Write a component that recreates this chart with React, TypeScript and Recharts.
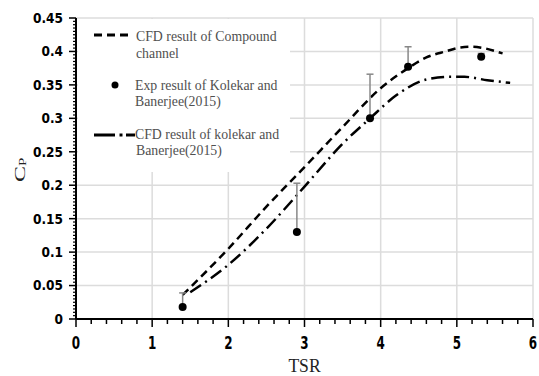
import { ComposedChart, Line, Scatter, ErrorBar, XAxis, YAxis, ReferenceLine, Legend } from "recharts";

// CFD result of compound channel
const tsrCompound = [1.4, 2.0, 2.5, 3.0, 3.5, 4.0, 4.36, 4.6, 4.85, 5.05, 5.2, 5.35, 5.6];
const cpCompound = [0.036, 0.105, 0.168, 0.227, 0.287, 0.345, 0.375, 0.391, 0.4, 0.406, 0.407, 0.405, 0.397];

// CFD result of Kolekar and Banerjee (2015)
const tsrKolekar = [1.5, 2.0, 2.5, 3.0, 3.5, 3.86, 4.2, 4.6, 4.9, 5.1, 5.4, 5.7];
const cpKolekar = [0.04, 0.081, 0.135, 0.198, 0.262, 0.3, 0.334, 0.358, 0.362, 0.362, 0.357, 0.353];

// experiment, with upper error only
const tsrExp = [1.4, 2.9, 3.86, 4.36, 5.32];
const cpExp = [0.018, 0.13, 0.3, 0.377, 0.392];
const errUp = [0.021, 0.073, 0.066, 0.03, 0.005];

const xTicks = [0, 1, 2, 3, 4, 5, 6];
const yTicks = [0, 0.05, 0.1, 0.15, 0.2, 0.25, 0.3, 0.35, 0.4, 0.45];
const xMinor = Array.from({ length: 31 }, (_, i) => +(i * 0.2).toFixed(1));
const yMinor = Array.from({ length: 91 }, (_, i) => +(i * 0.005).toFixed(3));

const legendLabels = [
  ["CFD result of Compound", "channel"],
  ["Exp result of Kolekar and", "Banerjee(2015)"],
  ["CFD result of kolekar and", "Banerjee(2015)"],
];

const compound = tsrCompound.map((x, i) => ({ x, y: cpCompound[i] }));
const kolekar = tsrKolekar.map((x, i) => ({ x, y: cpKolekar[i] }));
const exp = tsrExp.map((x, i) => ({ x, y: cpExp[i], err: [0, errUp[i]] }));

const serif = "'Liberation Serif', 'Times New Roman', serif";
const sans = "'DejaVu Sans Condensed', 'DejaVu Sans', sans-serif";
const gridColor = "#dcdcdc";

function LegendText({ x, y, text }: { x: number; y: number; text: string }) {
  return (
    <text transform={`translate(${x},${y}) scale(0.92,1)`} fontFamily={serif} fontSize={15} fill="#505050">
      {text}
    </text>
  );
}

function LegendBox() {
  return (
    <svg width={212} height={153} style={{ display: "block" }}>
      <rect width={212} height={153} fill="#fff" />
      <line x1={16} x2={50} y1={16} y2={16} stroke="#000" strokeWidth={3} strokeDasharray="8 5" />
      <LegendText x={58} y={21.7} text={legendLabels[0][0]} />
      <LegendText x={58} y={39} text={legendLabels[0][1]} />
      <circle cx={37} cy={66} r={3.5} fill="#000" />
      <LegendText x={57} y={71} text={legendLabels[1][0]} />
      <LegendText x={57} y={87} text={legendLabels[1][1]} />
      <line x1={16} x2={37} y1={116} y2={116} stroke="#000" strokeWidth={3} />
      <line x1={41.5} x2={44.5} y1={116} y2={116} stroke="#000" strokeWidth={3} />
      <line x1={48} x2={57} y1={116} y2={116} stroke="#000" strokeWidth={3} />
      <LegendText x={57} y={120.3} text={legendLabels[2][0]} />
      <LegendText x={58} y={136} text={legendLabels[2][1]} />
    </svg>
  );
}

// tick renderers draw their own tick marks (major and minor) and labels for major ticks only
const XTick = ({ x, y, payload }: any) => {
  const major = xTicks.includes(payload.value);
  return (
    <g>
      <line x1={x} x2={x} y1={y} y2={y + (major ? 8 : 5)} stroke="#000" strokeWidth={1.5} />
      {major && (
        <text
          transform={`translate(${x},${y + 17}) scale(0.95,1.3)`}
          textAnchor="middle"
          dy="0.73em"
          fontFamily={sans}
          fontWeight={700}
          fontSize={14}
          fill="#000"
        >
          {payload.value}
        </text>
      )}
    </g>
  );
};

const YTick = ({ x, y, payload }: any) => {
  const major = yTicks.includes(payload.value);
  return (
    <g>
      <line x1={x} x2={x - (major ? 7 : 3)} y1={y} y2={y} stroke="#000" strokeWidth={major ? 1.5 : 1.2} />
      {major && (
        <text x={x - 13} y={y} dy="0.36em" textAnchor="end" fontFamily={sans} fontWeight={700} fontSize={13.5} fill="#000">
          {payload.value}
        </text>
      )}
    </g>
  );
};

const Dot = (props: any) => <circle cx={props.cx} cy={props.cy} r={4} fill="#000" />;

export default function App() {
  return (
    <div style={{ position: "absolute", left: 0, top: 0, width: 539, height: 376, background: "#fff" }}>
      <ComposedChart width={539} height={376} margin={{ top: 18, right: 6, bottom: 2, left: 16 }}>
        <XAxis
          dataKey="x"
          type="number"
          domain={[0, 6]}
          ticks={xMinor}
          interval={0}
          allowDataOverflow
          height={55}
          tickSize={0}
          tickMargin={0}
          tickLine={false}
          tick={<XTick />}
          axisLine={{ stroke: "#000", strokeWidth: 2 }}
          label={{
            content: ({ viewBox }: any) => (
              <text
                transform={`translate(${viewBox.x + viewBox.width / 2},372) scale(0.95,1.05)`}
                textAnchor="middle"
                fontFamily={serif}
                fontSize={18.5}
                fill="#222"
              >
                TSR
              </text>
            ),
          }}
        />
        <YAxis
          type="number"
          domain={[0, 0.45]}
          ticks={yMinor}
          interval={0}
          allowDataOverflow
          width={60}
          tickSize={0}
          tickMargin={0}
          tickLine={false}
          tick={<YTick />}
          axisLine={{ stroke: "#000", strokeWidth: 2 }}
          label={{
            content: () => (
              <text transform="translate(25,182) rotate(-90) scale(1.5,0.95)" fontFamily={serif} fontSize={16} fill="#222">
                C<tspan fontSize={10} dy={1}>P</tspan>
              </text>
            ),
          }}
        />
        {yTicks.slice(1).map((v) => (
          <ReferenceLine key={`h${v}`} y={v} stroke={gridColor} strokeWidth={1.5} />
        ))}
        {xTicks.slice(1).map((v) => (
          <ReferenceLine key={`v${v}`} x={v} stroke={gridColor} strokeWidth={1.5} />
        ))}
        <Line
          data={compound}
          dataKey="y"
          type="monotone"
          stroke="#000"
          strokeWidth={2.5}
          strokeDasharray="8 5"
          dot={false}
          activeDot={false}
          isAnimationActive={false}
        />
        <Line
          data={kolekar}
          dataKey="y"
          type="monotone"
          stroke="#000"
          strokeWidth={2.5}
          strokeDasharray="13 5 2 5"
          dot={false}
          activeDot={false}
          isAnimationActive={false}
        />
        <Scatter data={exp} dataKey="y" shape={<Dot />} isAnimationActive={false}>
          <ErrorBar dataKey="err" direction="y" width={3.5} stroke="#888" strokeWidth={1.5} isAnimationActive={false} />
        </Scatter>
        <Legend
          layout="horizontal"
          verticalAlign="middle"
          align="center"
          content={() => <LegendBox />}
          wrapperStyle={{ left: 78, top: 19, width: 212, height: 153 }}
        />
      </ComposedChart>
    </div>
  );
}
